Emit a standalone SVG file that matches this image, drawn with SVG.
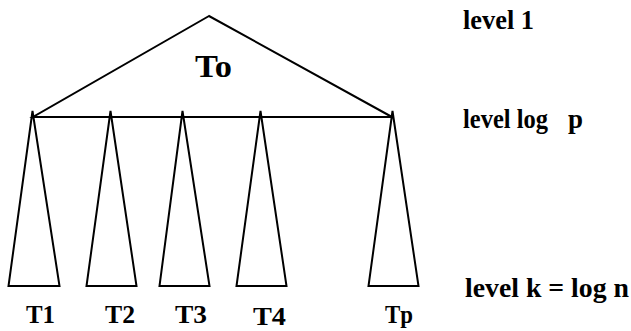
<svg xmlns="http://www.w3.org/2000/svg" width="631" height="331" viewBox="0 0 631 331">
<style>
.tri{fill:none;stroke:#000;stroke-width:2;stroke-linejoin:miter}
text{font-family:"Times New Roman","Liberation Serif",Tinos,"DejaVu Serif",serif;font-weight:bold;fill:#000}
.lv{font-size:28px}
.tl{font-size:26px}
</style>
<rect width="631" height="331" fill="#fff"/>
<g id="T0">
<polygon class="tri" points="209,16 33,117 392,117"/>
<text x="195" y="77" style="font-size:32px" textLength="37" lengthAdjust="spacingAndGlyphs">To</text>
</g>
<g id="connectors"/>
<g id="T1">
<polygon class="tri" points="32.5,111 8.5,286 59.5,286"/>
<text class="tl" x="26" y="323" textLength="29" lengthAdjust="spacingAndGlyphs">T1</text>
</g>
<g id="T2">
<polygon class="tri" points="110.5,111 86.5,286 136.5,286"/>
<text class="tl" x="105" y="323" textLength="30" lengthAdjust="spacingAndGlyphs">T2</text>
</g>
<g id="T3">
<polygon class="tri" points="182.5,111 159.5,286 209.5,286"/>
<text class="tl" x="175" y="323" textLength="32" lengthAdjust="spacingAndGlyphs">T3</text>
</g>
<g id="T4">
<polygon class="tri" points="260.5,111 236.5,286 286.5,286"/>
<text class="tl" x="253" y="325" textLength="33" lengthAdjust="spacingAndGlyphs">T4</text>
</g>
<g id="Tp">
<polygon class="tri" points="392.5,111 368.5,286 418.5,286"/>
<text class="tl" x="385" y="323" textLength="28" lengthAdjust="spacingAndGlyphs">Tp</text>
</g>
<g id="levels">
<text class="lv" x="463" y="29" textLength="71" lengthAdjust="spacingAndGlyphs">level 1</text>
<text class="lv" x="463" y="128" textLength="85" lengthAdjust="spacingAndGlyphs">level log</text>
<text class="lv" x="568" y="128" textLength="15" lengthAdjust="spacingAndGlyphs">p</text>
<text class="lv" x="465" y="297" textLength="164" lengthAdjust="spacingAndGlyphs">level k = log n</text>
</g>
</svg>
